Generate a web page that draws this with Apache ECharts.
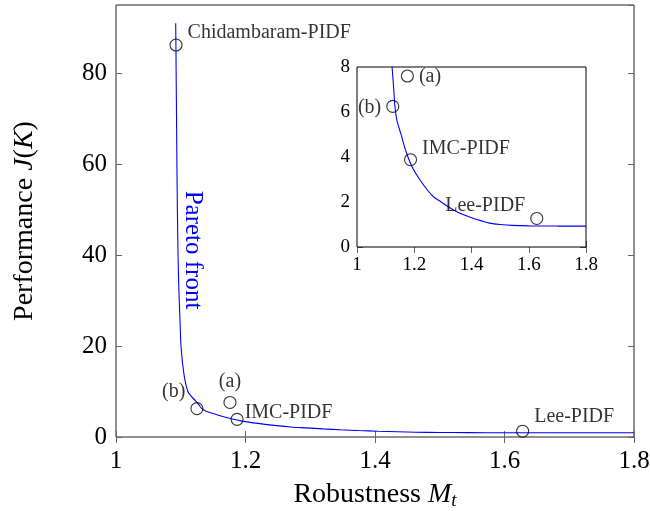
<!DOCTYPE html>
<html>
<head>
<meta charset="utf-8">
<script src="https://cdn.jsdelivr.net/npm/echarts@6/dist/echarts.min.js"></script>
<style>
html,body{margin:0;padding:0;background:#fff;}
#chart{width:650px;height:511px;}
</style>
</head>
<body>
<div id="chart"></div>
<script>
// Pareto front (robustness Mt, performance J)
const paretoM = [1.0922,1.0926,1.0930,1.0935,1.0941,1.0948,1.0958,1.0972,1.0990,1.1004,1.1030,1.1065,1.1110,1.1160,1.1225,1.1280,1.1326,1.1400,1.1550,1.1660,1.1780,1.1950,1.2190,1.2480,1.2700,1.2940,1.3200,1.3470,1.3750,1.4050,1.4350,1.4630,1.5000,1.5430,1.6000,1.7000,1.8000];
const paretoJ = [91,85,78,70,60,50,40,32,25,20,16,12.5,10,9.0,8.0,7.07,6.24,5.6,4.96,4.45,4.0,3.5,3.0,2.5,2.2,2.0,1.78,1.58,1.42,1.28,1.16,1.06,1.00,0.96,0.94,0.93,0.93];

// Controllers
const pointNames = ['Chidambaram-PIDF','(a)','(b)','IMC-PIDF','Lee-PIDF'];
const pointM = [1.0927,1.176,1.125,1.187,1.628];
const pointJ = [86.2,7.6,6.25,3.88,1.27];

// Axis ticks
const xTicks = [1,1.2,1.4,1.6,1.8];
const yTicksMain = [0,20,40,60,80];
const yTicksInset = [0,2,4,6,8];

const FONT = 'Liberation Serif';

// label placement styles (per name), main plot and inset
const mainLabelStyle = {
  'Chidambaram-PIDF': {position:'right', offset:[0,-12]},
  '(a)': {position:'top', offset:[0,1]},
  '(b)': {position:'left', offset:[0,-17]},
  'IMC-PIDF': {position:'right', offset:[-4,-7]},
  'Lee-PIDF': {position:'right', offset:[0,-14]}
};
const insetLabelStyle = {
  '(a)': {position:'right', offset:[0,1]},
  '(b)': {position:'left', offset:[0,1]},
  'IMC-PIDF': {position:'right', offset:[0,-11]},
  'Lee-PIDF': {position:'left', offset:[0,-13]}
};

const curve = paretoM.map((m,i)=>[m, paretoJ[i]]);

function pts(styles, filterMax){
  const out = [];
  pointNames.forEach((n,i)=>{
    if (pointJ[i] > filterMax) return;
    const s = styles[n];
    out.push({
      name:n, value:[pointM[i], pointJ[i]],
      label:{show:true, formatter:n, position:s.position, offset:s.offset,
        fontFamily:FONT, fontSize:20, color:'#000', distance:5}
    });
  });
  return out;
}

const fmt = v => String(Math.round(v*10)/10);

function xAxisPair(grid, fontSize, showName){
  const base = {
    gridIndex:grid, type:'value', min:xTicks[0], max:xTicks[xTicks.length-1], interval:0.2,
    splitLine:{show:false}, axisLine:{show:false},
    axisTick:{show:true, inside:true, length:6, lineStyle:{color:'#666', width:1}}
  };
  const bottom = Object.assign({}, base, {
    position:'bottom',
    axisLabel:{show:true, formatter:fmt, fontFamily:FONT, fontSize:fontSize, color:'#000', margin: fontSize>20?12:9}
  });
  if (showName){
    Object.assign(bottom, {
      name:'{a|Robustness }{i|M}{s|t}', nameLocation:'middle', nameGap:42,
      nameTextStyle:{fontFamily:FONT, fontSize:28, color:'#000',
        rich:{a:{fontFamily:FONT,fontSize:28,color:'#000'},
              i:{fontFamily:FONT,fontSize:28,fontStyle:'italic',color:'#000'},
              s:{fontFamily:FONT,fontSize:19,fontStyle:'italic',color:'#000',padding:[12,0,0,0]}}}
    });
  }
  const top = Object.assign({}, base, {position:'top', axisLabel:{show:false}});
  return [bottom, top];
}
function yAxisPair(grid, max, interval, fontSize, showName){
  const base = {
    gridIndex:grid, type:'value', min:0, max:max, interval:interval,
    splitLine:{show:false}, axisLine:{show:false},
    axisTick:{show:true, inside:true, length:6, lineStyle:{color:'#666', width:1}}
  };
  const left = Object.assign({}, base, {
    position:'left',
    axisLabel:{show:true, showMaxLabel: max % interval === 0, fontFamily:FONT, fontSize:fontSize, color:'#000', margin: fontSize>20?9:7}
  });
  if (showName){
    Object.assign(left, {
      name:'{a|Performance }{i|J}{a|(}{i|K}{a|)}', nameLocation:'middle', nameGap:77,
      nameTextStyle:{fontFamily:FONT, fontSize:28, color:'#000',
        rich:{a:{fontFamily:FONT,fontSize:28,color:'#000'},
              i:{fontFamily:FONT,fontSize:28,fontStyle:'italic',color:'#000'}}}
    });
  }
  const right = Object.assign({}, base, {position:'right', axisLabel:{show:false}});
  return [left, right];
}

const chart = echarts.init(document.getElementById('chart'), null, {renderer:'canvas'});
const xm = xAxisPair(0, 25, true), xi = xAxisPair(1, 19, false);
const ym = yAxisPair(0, 95, 20, 25, true), yi = yAxisPair(1, 8, 2, 19, false);

chart.setOption({
  animation:false,
  backgroundColor:'#fff',
  grid:[
    {left:116, top:5, width:518, height:432, show:true, borderColor:'#222', borderWidth:1, backgroundColor:'transparent', containLabel:false, outerBoundsMode:'none'},
    {left:357, top:67, width:229, height:180, show:true, borderColor:'#000', borderWidth:1, backgroundColor:'#fff', z:5, containLabel:false, outerBoundsMode:'none'}
  ],
  xAxis:[xm[0], xm[1], xi[0], xi[1]],
  yAxis:[ym[0], ym[1], yi[0], yi[1]],
  series:[
    {type:'line', xAxisIndex:0, yAxisIndex:0, data:curve, showSymbol:false, smooth:0.3,
      lineStyle:{color:'#0000ff', width:1.1}, clip:true, z:3},
    {type:'scatter', xAxisIndex:0, yAxisIndex:0, data:pts(mainLabelStyle, 1000),
      symbol:'circle', symbolSize:12, itemStyle:{color:'rgba(0,0,0,0)', borderColor:'#000', borderWidth:1.1}, z:4},
    {type:'line', xAxisIndex:2, yAxisIndex:2, data:curve, showSymbol:false, smooth:0.3,
      lineStyle:{color:'#0000ff', width:1.1}, clip:true, z:6},
    {type:'scatter', xAxisIndex:2, yAxisIndex:2, data:pts(insetLabelStyle, 8),
      symbol:'circle', symbolSize:12, itemStyle:{color:'rgba(0,0,0,0)', borderColor:'#000', borderWidth:1.1}, z:7}
  ],
  graphic:[
    {type:'text', x:193, y:250, rotation:-Math.PI/2, z:10,
      style:{text:'Pareto front', fontFamily:FONT, fontSize:25, fill:'#0000ff', align:'center', verticalAlign:'middle'}}
  ]
});
</script>
</body>
</html>
